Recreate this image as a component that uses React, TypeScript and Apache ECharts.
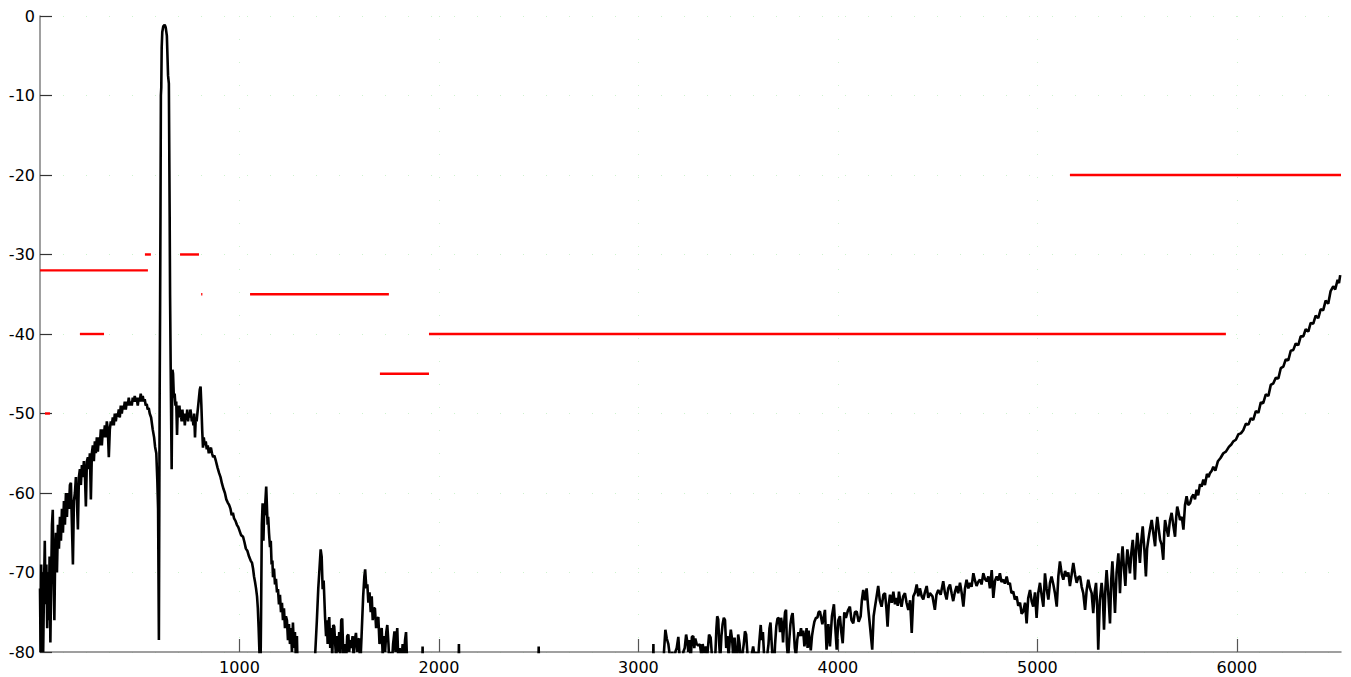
import React, { useEffect, useRef } from "react";
import * as echarts from "echarts";

const xTickValues = [1000, 2000, 3000, 4000, 5000, 6000];
const yMin = -80;
const yMax = 0;
const xMax = 6522;

// [start frequency, end frequency, level]
const limitSegments = [
  [0, 541, -32],
  [526, 556, -30],
  [702, 797, -30],
  [808, 814, -35],
  [1053, 1749, -35],
  [200, 321, -40],
  [1704, 1950, -45],
  [1950, 5945, -40],
  [5163, 6522, -20],
  [25, 50, -50],
];

const spectrumLow = [
  [0, -72], [3, -80], [6, -69], [9, -77], [12, -70], [16, -80], [20, -72], [24, -66], [28, -74], [32, -69],
  [36, -77], [40, -70], [44, -76], [48, -68], [52, -78.8], [56, -71], [60, -64], [64, -62.1], [68, -70], [72, -76],
  [76, -68], [80, -65], [85, -70], [90, -64], [95, -67], [100, -63], [105, -66], [110, -62], [115, -65], [120, -61],
  [125, -64], [130, -60], [135, -63], [140, -60], [145, -62], [150, -59], [155, -58.7], [160, -64], [165, -69], [170, -61],
  [175, -60], [180, -58], [185, -61], [190, -64.6], [195, -58], [200, -57], [205, -59], [210, -56.5], [215, -58], [220, -56],
  [225, -57.5], [230, -61.7], [235, -56], [240, -55.5], [245, -57], [250, -55], [255, -60.8], [260, -55], [265, -54], [270, -56],
  [275, -53.5], [280, -55], [285, -53], [290, -54.8], [295, -53], [300, -54], [305, -52], [310, -54], [315, -52], [320, -53],
  [325, -51.5], [330, -53], [335, -51], [340, -52], [345, -55.5], [350, -52], [355, -51], [360, -51.5], [365, -50.5], [370, -51.5],
  [375, -50], [380, -51], [385, -50], [390, -50.4], [395, -49.5], [400, -50.5], [405, -49], [410, -50], [415, -49], [420, -49.5],
  [425, -48.5], [430, -49.5], [435, -48.5], [440, -49], [445, -48], [450, -49], [455, -48.5], [460, -49], [465, -48], [470, -48.5],
  [475, -47.8], [480, -48.5], [485, -48], [490, -49], [495, -48], [500, -48.5], [505, -47.5], [510, -48.5], [515, -47.8], [520, -48.5],
  [525, -48.2], [530, -49], [535, -48.8], [540, -49.5], [545, -49.3], [550, -50], [557, -50.5], [565, -52], [572, -53], [577, -54.2],
  [583, -55], [588, -58.3], [592, -62], [596, -78.5],
];

const spectrumPeak = [
  [598, -62], [600, -47], [602, -37], [604, -25], [606, -10], [608, -9], [610, -4], [613, -2], [618, -1.3], [625, -1.1],
  [630, -1.4], [636, -2.5], [642, -7.5], [646, -8.5], [650, -25], [652, -35], [655, -44], [658, -52], [660, -57], [662, -50],
  [664, -44.5], [667, -45], [671, -48], [675, -47.5], [679, -49], [683, -48.5], [687, -52.7], [691, -49], [695, -50.5], [699, -49],
  [703, -50.5], [706, -50], [710, -51], [714, -49.5], [718, -51], [722, -50], [726, -51.5], [730, -50], [734, -50.8], [738, -49.5],
  [742, -51], [746, -50], [750, -50.5], [754, -49.5], [757, -50], [761, -51], [765, -50.5], [769, -51.5], [773, -50], [777, -53],
  [781, -50.5], [785, -51], [789, -50], [793, -49], [797, -48], [801, -47], [805, -46.6], [809, -49], [813, -52], [817, -54.3],
  [821, -53], [826, -54], [831, -53.5], [836, -54.5], [841, -54], [846, -55], [851, -54.5], [857, -54.3], [862, -55], [868, -55.5],
  [874, -55.3], [882, -56], [890, -56.8], [898, -57.5], [905, -58], [912, -58.8], [920, -59.5], [927, -60], [934, -60.8], [941, -61.2],
  [948, -61.5], [955, -62], [961, -62.8], [967, -62.5], [973, -63.2], [980, -63.5], [987, -64], [994, -64.3], [1001, -64.8], [1008, -65.3],
  [1018, -65.5], [1025, -66.2], [1032, -67], [1040, -67.3], [1048, -68], [1056, -68.5], [1063, -68.8], [1068, -69.5], [1073, -70.5], [1078, -71.2],
  [1083, -72], [1088, -73], [1092, -74.5], [1096, -77], [1100, -80], [1104, -86], [1108, -76], [1112, -64], [1116, -61.3], [1120, -66],
  [1123, -63], [1127, -62.5], [1130, -61], [1134, -59.2], [1138, -62], [1141, -64], [1144, -63], [1148, -65], [1153, -66.8], [1157, -66],
  [1161, -69], [1165, -68.5], [1168, -70.6], [1173, -69.5], [1178, -71.5], [1183, -70.8], [1188, -72.5], [1193, -72.1], [1198, -74], [1203, -72.8],
  [1208, -75], [1213, -73.8], [1218, -76], [1223, -74.5], [1228, -77], [1233, -75.5], [1238, -76], [1243, -78.5], [1248, -76.5], [1253, -79],
  [1258, -77], [1263, -80], [1268, -76.3], [1273, -79.5], [1278, -77.5], [1283, -81], [1288, -78], [1292, -83], [1298, -90],
];

const spectrumMid = [
  [1375, -90], [1380, -80], [1388, -76], [1395, -72], [1400, -70], [1407, -67.1], [1412, -68], [1417, -72.1], [1422, -71], [1429, -75.6],
  [1434, -78], [1438, -76], [1442, -79], [1446, -76.5], [1450, -75.6], [1455, -79.5], [1460, -77], [1465, -80.5], [1470, -76.6], [1475, -76.8],
  [1480, -79], [1485, -81], [1490, -78], [1495, -80], [1500, -77.5], [1505, -81], [1510, -76], [1515, -75.8], [1520, -80], [1525, -82],
  [1530, -79], [1535, -81], [1540, -78], [1546, -77.8], [1550, -80], [1555, -78.5], [1560, -79.5], [1567, -78], [1572, -80.5], [1578, -78.5],
  [1584, -77.6], [1590, -80], [1595, -78.5], [1600, -78.3], [1605, -82], [1612, -78], [1620, -73], [1626, -70.5], [1630, -69.6], [1636, -72],
  [1641, -71.5], [1646, -73.8], [1652, -72.5], [1658, -75], [1663, -73], [1668, -76], [1674, -74.5], [1679, -74.5], [1685, -77], [1690, -76],
  [1696, -75.6], [1702, -79], [1707, -77.5], [1713, -77], [1718, -80.5], [1724, -78], [1730, -80], [1736, -77.5], [1741, -76.6], [1747, -79],
  [1752, -82], [1757, -80], [1763, -82], [1770, -79], [1777, -77.4], [1782, -80], [1786, -78.5], [1791, -77], [1796, -81], [1803, -79.5],
  [1810, -82], [1818, -79], [1824, -81], [1830, -78.5], [1835, -77.5], [1840, -81], [1850, -90], [1912, -90], [1918, -79.3], [1924, -90],
  [2095, -90], [2100, -79], [2105, -90], [2495, -90], [2500, -79.3], [2505, -90], [3070, -90], [3075, -79], [3080, -90], [3120, -90],
  [3128, -80], [3135, -77.2], [3142, -78.3], [3150, -79], [3160, -81], [3170, -80], [3178, -82], [3185, -80], [3192, -79.5], [3200, -78.1],
  [3206, -80.5], [3215, -84], [3225, -80], [3232, -79.5], [3239, -77.8], [3245, -78.7], [3250, -80], [3256, -78.5], [3262, -81], [3268, -78.1],
  [3275, -78], [3280, -79.5], [3285, -78.3], [3292, -79], [3300, -79.2], [3308, -79], [3316, -80.5], [3322, -79], [3330, -80.2], [3338, -79.3],
  [3345, -80.5], [3354, -77.8], [3362, -78.2], [3370, -81], [3378, -84], [3386, -80], [3391, -77], [3395, -75.5], [3400, -75.9], [3405, -79],
  [3410, -81], [3416, -78], [3422, -76.5], [3428, -75.7], [3434, -76], [3440, -79.5], [3446, -78], [3452, -80.5], [3458, -78.5], [3463, -77.2],
  [3470, -78.5], [3476, -81], [3482, -78.2], [3488, -80.5], [3494, -82], [3500, -77.8], [3507, -79], [3513, -81], [3520, -80.5], [3528, -79],
  [3534, -77.4], [3540, -77.8], [3546, -80], [3552, -84], [3560, -81], [3567, -80.5], [3575, -79.3], [3582, -80.5], [3590, -80], [3597, -82],
  [3605, -79], [3613, -76.6], [3618, -78.5], [3624, -77.5], [3630, -80.5], [3637, -83], [3645, -80.5], [3652, -79], [3657, -77], [3662, -76.3],
  [3667, -78.5], [3672, -80.5], [3678, -83], [3685, -79], [3691, -76.8], [3697, -75.8], [3704, -75.7], [3710, -77.5], [3715, -75.7], [3720, -76.5],
  [3725, -78.8], [3730, -76.5], [3735, -75], [3740, -74.7], [3744, -79], [3750, -81], [3756, -78.5], [3762, -76.5], [3768, -75.5], [3773, -75.1],
  [3778, -77], [3784, -79.5], [3790, -80.5], [3796, -78.5], [3802, -77.5], [3808, -78], [3815, -77], [3820, -78], [3826, -77.3], [3832, -79.3],
  [3838, -78.2], [3843, -77], [3848, -79.5], [3853, -77.3], [3858, -78.5], [3864, -79.8], [3870, -78], [3876, -77], [3882, -76.2], [3890, -75.7],
  [3897, -75.7], [3903, -75],
];

const spectrumHigh = [
  [3910, -74.9], [3922, -76.5], [3935, -74.7], [3943, -79.7], [3952, -76.5], [3960, -79.3], [3970, -75.5], [3980, -74.0], [3987, -77], [3994, -79.7],
  [4002, -76], [4010, -75.5], [4017, -77.5], [4024, -78.9], [4032, -75], [4040, -75.7], [4050, -74.8], [4060, -74.3], [4068, -76], [4077, -76.4],
  [4085, -75], [4094, -74.9], [4104, -76.2], [4114, -75.5], [4120, -73.5], [4127, -72.2], [4135, -73.5], [4144, -72.0], [4152, -74.5], [4161, -76.8],
  [4172, -79.7], [4179, -75.5], [4186, -74.3], [4194, -73], [4202, -71.7], [4210, -73.5], [4219, -74.3], [4228, -72.8], [4236, -72.6], [4243, -74.5],
  [4249, -76.8], [4255, -74], [4261, -72.8], [4270, -73.8], [4278, -72.4], [4286, -74], [4294, -73.2], [4300, -74.2], [4306, -72.4], [4312, -73.5],
  [4319, -74.3], [4327, -73], [4336, -72.6], [4344, -73.8], [4353, -74.7], [4362, -73.5], [4370, -77.6], [4378, -73.0], [4387, -72.5], [4395, -71.5],
  [4403, -73], [4411, -72.0], [4420, -73], [4428, -73.4], [4436, -72.5], [4445, -71.7], [4453, -73.2], [4461, -72.6], [4474, -73], [4486, -74.7],
  [4494, -72.8], [4503, -72.2], [4515, -72.8], [4528, -71.1], [4536, -72.5], [4545, -73.4], [4553, -72], [4562, -71.5], [4570, -72.6], [4578, -73.6],
  [4587, -72.4], [4595, -71.7], [4603, -72.6], [4612, -71.3], [4620, -72.5], [4629, -74.3], [4637, -72], [4645, -70.9], [4654, -72], [4662, -71.3],
  [4670, -71.8], [4679, -70.1], [4687, -71], [4695, -71.7], [4703, -71.2], [4712, -70.9], [4720, -71.5], [4729, -70.1], [4737, -70.8], [4746, -71.1],
  [4754, -70.5], [4762, -72.0], [4771, -69.7], [4779, -73.2], [4788, -71], [4796, -70.5], [4804, -71], [4812, -70.1], [4820, -71.2], [4829, -70.9],
  [4837, -71.4], [4846, -70.5], [4854, -71.5], [4862, -71.3], [4870, -72.6], [4879, -72.4], [4887, -73.4], [4896, -73.0], [4904, -74.2], [4913, -73.8],
  [4921, -75.2], [4929, -74.9], [4938, -73.8], [4946, -76.4], [4954, -73.2], [4963, -72.2], [4971, -73.6], [4979, -74.3], [4988, -72.5], [4996, -75.7],
  [5004, -72.6], [5013, -71.3], [5022, -73], [5030, -74.3], [5038, -70.1], [5046, -72], [5055, -73.4], [5063, -71.3], [5071, -70.5], [5080, -71.5],
  [5088, -72.6], [5097, -74.3], [5105, -70.5], [5113, -68.6], [5122, -70.2], [5130, -70.9], [5139, -69.8], [5147, -70.5], [5155, -70], [5163, -71.7],
  [5172, -70.2], [5180, -68.8], [5189, -70.3], [5197, -71.3], [5205, -70.6], [5214, -70.5], [5222, -71.8], [5230, -72.6], [5239, -74.7], [5247, -72.2],
  [5255, -70.9], [5264, -72], [5272, -72.6], [5280, -75.1], [5287, -72.5], [5294, -71.3], [5300, -74.5], [5305, -79.7], [5313, -73.5], [5322, -71.3],
  [5328, -73], [5334, -77.2], [5341, -72], [5347, -69.7], [5355, -72.5], [5364, -76.4], [5370, -71], [5376, -68.6], [5383, -72], [5389, -75.1],
  [5397, -70], [5406, -67.6], [5410, -70], [5414, -72.6], [5420, -69], [5427, -66.7], [5434, -69.5], [5441, -71.7], [5446, -69], [5451, -67.1],
  [5458, -68.5], [5464, -70.1], [5471, -67.5], [5478, -65.9], [5484, -68], [5489, -70.9], [5495, -67], [5501, -65.0], [5508, -67], [5514, -68.8],
  [5521, -66], [5528, -64.2], [5536, -67], [5544, -70.5], [5550, -67], [5556, -65.9], [5565, -64.5], [5573, -63.4], [5581, -65], [5590, -66.7],
  [5595, -64.5], [5601, -63.0], [5608, -64.5], [5615, -65.9], [5623, -66.5], [5631, -68.4], [5636, -65], [5640, -63.4], [5648, -64.5], [5656, -65.5],
  [5664, -63.5], [5673, -62.5], [5681, -64], [5690, -65.5], [5696, -63], [5701, -61.7], [5708, -62.5], [5715, -63.4], [5724, -63], [5732, -64.6],
  [5740, -61.5], [5748, -60.4], [5756, -61.5], [5765, -61.3], [5774, -60.5], [5782, -60.2], [5790, -60.8], [5798, -59.6], [5806, -60.3], [5815, -58.9],
  [5823, -59.2], [5832, -58.3], [5840, -59], [5850, -57.6], [5858, -58], [5865, -57.5], [5874, -57.2], [5882, -56.7], [5892, -57.2], [5905, -56],
  [5918, -55.6], [5932, -55], [5945, -54.8], [5960, -54.2], [5972, -53.9], [5982, -53.5], [5995, -53.3], [6008, -52.6], [6020, -52.5], [6032, -52.1],
  [6045, -51.3], [6058, -51.4], [6070, -50.6], [6082, -50.8], [6095, -49.7], [6108, -49.9], [6120, -48.6], [6132, -48.7], [6145, -47.6], [6158, -47.8],
  [6170, -46.4], [6183, -46.2], [6195, -45.5], [6208, -45.6], [6220, -44.3], [6233, -44.1], [6245, -43.2], [6258, -43.3], [6270, -42.1], [6283, -42],
  [6295, -41.2], [6308, -41.4], [6320, -40.3], [6333, -40.3], [6345, -39.4], [6358, -39.7], [6370, -38.6], [6383, -38.7], [6395, -37.7], [6408, -38],
  [6420, -36.9], [6433, -37], [6445, -35.8], [6458, -36.2], [6470, -34.6], [6483, -34], [6493, -34.4], [6505, -33.2], [6512, -33.6], [6518, -32.6],
];

const labelFont = "DejaVu Sans";

export default function App() {
  const ref = useRef<HTMLDivElement>(null);

  useEffect(() => {
    if (!ref.current) return;
    const chart = echarts.init(ref.current, undefined, { renderer: "svg" });
    const spectrum = [...spectrumLow, ...spectrumPeak, ...spectrumMid, ...spectrumHigh];

    const limitSeries = limitSegments.map((seg) => ({
      type: "line",
      data: [
        [seg[0], seg[2]],
        [seg[1], seg[2]],
      ],
      symbol: "none",
      lineStyle: { color: "#ff0000", width: 2.4 },
      z: 3,
      silent: true,
    }));

    chart.setOption({
      animation: false,
      backgroundColor: "#ffffff",
      grid: { left: 40, right: 10, top: 16, bottom: 25, containLabel: false },
      xAxis: {
        type: "value",
        min: 0,
        max: xMax,
        interval: 1000,
        axisLine: { show: true, onZero: false, lineStyle: { color: "#808080", width: 1.5 } },
        axisTick: {
          show: true,
          inside: true,
          length: 13,
          customValues: xTickValues,
          lineStyle: { color: "#555555", width: 1.2 },
        },
        axisLabel: {
          customValues: xTickValues,
          formatter: (v: number) => String(v),
          color: "#000000",
          fontSize: 16,
          fontFamily: labelFont,
          margin: 7,
        },
        splitLine: { show: true, lineStyle: { color: "#cdf3cd", width: 1, type: [1, 22] } },
      },
      yAxis: {
        type: "value",
        min: yMin,
        max: yMax,
        interval: 10,
        axisLine: { show: true, onZero: false, lineStyle: { color: "#808080", width: 1.5 } },
        axisTick: { show: true, inside: true, length: 12, lineStyle: { color: "#333333", width: 1.2 } },
        axisLabel: {
          formatter: (v: number) => String(v),
          color: "#000000",
          fontSize: 16,
          fontFamily: labelFont,
          margin: 5,
        },
        splitLine: { show: true, lineStyle: { color: "#cdf3cd", width: 1, type: [1, 22] } },
      },
      series: [
        {
          type: "line",
          data: spectrum,
          symbol: "none",
          clip: true,
          lineStyle: { color: "#000000", width: 2.6 },
          z: 2,
          silent: true,
        },
        ...limitSeries,
      ],
    });

    return () => chart.dispose();
  }, []);

  return (
    <div
      ref={ref}
      style={{ position: "absolute", left: 0, top: 0, width: 1351, height: 677 }}
    />
  );
}
